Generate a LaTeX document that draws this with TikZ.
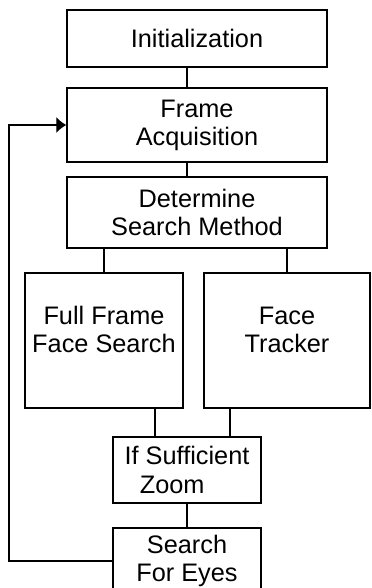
\documentclass[tikz,border=0pt]{standalone}
\usepackage{fontspec}
\setmainfont{Liberation Sans}
\usepackage{tikz}
\usetikzlibrary{positioning, arrows.meta}

\begin{document}
\begin{tikzpicture}[x=0.025cm, y=-0.025cm, line width=0.9pt, >={Latex[length=0.25cm, width=0.4cm]}]

\useasboundingbox (0,0) rectangle (371,588);
\clip (0,0) rectangle (371,588);

\tikzset{
  flowbox/.style={draw, rectangle, align=center, inner sep=0pt,
                  font=\fontsize{18}{20}\selectfont},
  widebox/.style={flowbox, minimum width=6.5cm},
  tallbox/.style={flowbox, minimum height=3.375cm, text depth=0.55cm}
}

\node[widebox, minimum height=1.425cm] (init)      at (197,38.5)  {Initialization};
\node[widebox, minimum height=1.85cm]  (frame)     at (197,125)   {Frame\\Acquisition};
\node[widebox, minimum height=1.775cm] (determine) at (197,212.5) {Determine\\Search Method};
\node[tallbox, minimum width=3.95cm]   (fullframe) at (104,340.5) {Full Frame\\Face Search};
\node[tallbox, minimum width=4.15cm]   (tracker)   at (287,340.5) {Face\\Tracker};
\node[flowbox, minimum width=3.7cm, minimum height=1.65cm, align=left] (sufzoom) at (187,470)
      {If Sufficient\\\hspace*{0.38cm}Zoom};
\node[flowbox, minimum width=3.7cm, minimum height=1.65cm] (eyes) at (187,561) {Search\\For Eyes};

\coordinate[xshift=-0.8cm]  (fromfull)  at (sufzoom.north);
\coordinate[xshift=1.075cm] (fromtrack) at (sufzoom.north);
\coordinate (back) at (9,0);

\draw (init.south -| eyes.north) -- (frame.north -| eyes.north);
\draw (frame.south -| eyes.north) -- (determine.north -| eyes.north);
\draw (determine.south -| fullframe.north) -- (fullframe.north);
\draw (determine.south -| tracker.north) -- (tracker.north);
\draw (fullframe.south -| fromfull) -- (fromfull);
\draw (tracker.south -| fromtrack) -- (fromtrack);
\draw (sufzoom.south) -- (eyes.north);
\draw[->] (eyes.west) -- (eyes.west -| back) |- (frame.west);

\end{tikzpicture}
\end{document}
